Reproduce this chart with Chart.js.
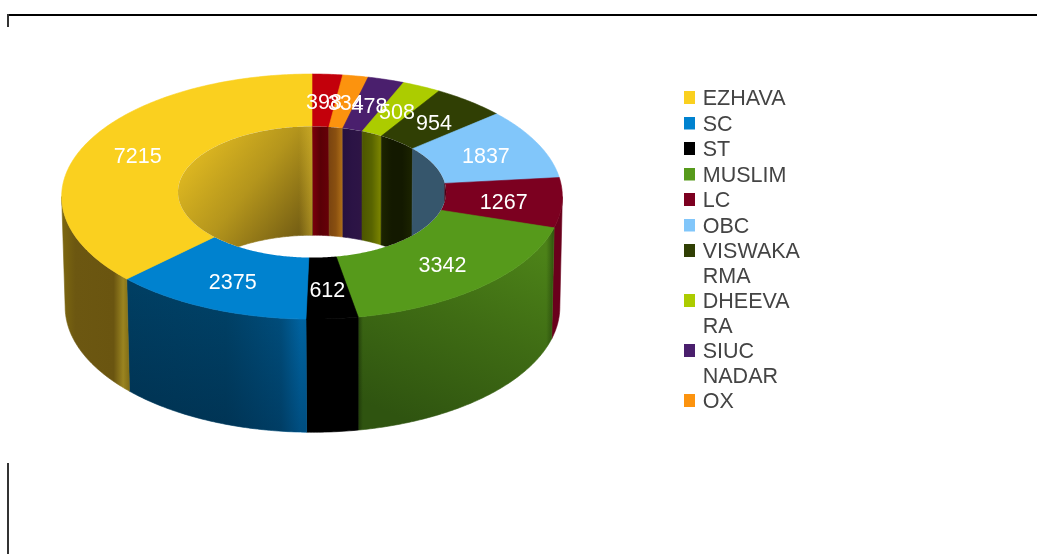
<!DOCTYPE html>
<html>
<head>
<meta charset="utf-8">
<style>html,body{margin:0;padding:0;background:#fff}canvas{display:block}</style>
<script src="https://cdn.jsdelivr.net/npm/chart.js@4/dist/chart.umd.min.js"></script>
</head>
<body>
<canvas id="c" width="1037" height="554"></canvas>
<script>
const categories = ['EZHAVA','SC','ST','MUSLIM','LC','OBC','VISWAKARMA','DHEEVARA','SIUC NADAR','OX',''];
const values = [7215,2375,612,3342,1267,1837,954,508,478,334,398];
const legendLines = [['EZHAVA'],['SC'],['ST'],['MUSLIM'],['LC'],['OBC'],['VISWAKA','RMA'],['DHEEVA','RA'],['SIUC','NADAR'],['OX'],['']];
const colors = ['#fad01f','#0082cf','#000000','#569a1b','#7c0020','#81c6fa','#303f04','#accc00','#4a1f6d','#fc930e','#c3000b'];

// The picture runs clockwise from the top in reverse category order.
const drawOrder = categories.map((_, i) => categories.length - 1 - i);

// 3D camera model of the ring
const CX = 312, HOLE = 0.536, K = 0.052;
const TOP = {x: 312, a: 250, y: 190.2, b: 122.2};
const BOT = {x: 312.5, a: 247, y: 300.4, b: 125};
function proj(pl, r, t) {
  const u = r * Math.sin(t), v = -r * Math.cos(t), w = 1 / (1 - K * v);
  return [pl.x + pl.a * u * w, pl.y + pl.b * v * w];
}
function trace(ctx, pl, r, a, b, first) {
  const n = Math.max(2, Math.ceil(Math.abs(b - a) / 0.012));
  for (let i = 0; i <= n; i++) {
    const p = proj(pl, r, a + (b - a) * i / n);
    if (first && i === 0) ctx.moveTo(p[0], p[1]); else ctx.lineTo(p[0], p[1]);
  }
}
function band(ctx, p1, r1, p2, r2, a, b) {
  ctx.beginPath();
  trace(ctx, p1, r1, a, b, true);
  trace(ctx, p2, r2, b, a, false);
  ctx.closePath();
}
function paint(ctx, style) {
  ctx.fillStyle = style; ctx.strokeStyle = style; ctx.lineWidth = 0.6;
  ctx.fill(); ctx.stroke();
}
function hGrad(ctx, x0, x1, stops) {
  const g = ctx.createLinearGradient(x0, 0, x1, 0);
  stops.forEach((c, i) => g.addColorStop(Array.isArray(c) ? c[0] : i / (stops.length - 1), Array.isArray(c) ? c[1] : c));
  return g;
}
// Legend swatch: 13px square sitting 2px above the centre of its text line
function swatch(color) {
  const s = document.createElement('canvas');
  s.width = 13; s.height = 17;
  const x = s.getContext('2d');
  x.fillStyle = color; x.fillRect(0, 0, 13, 13);
  return s;
}
const innerStops = {
  'SC':['#00304e','#00304e'], 'ST':['#000','#000'], 'MUSLIM':['#2f5410','#2f5410'],
  'LC':['#4a0014','#4a0014'], 'OBC':['#36566c','#36566c'],
  'VISWAKARMA':['#1c2400','#131900','#131900','#1c2400'], 'DHEEVARA':['#4c5600','#586400','#7f8800'],
  'SIUC NADAR':['#26113f','#2b1345','#2e1545'], 'OX':['#7a4410','#8a5010','#b07018'], '':['#7d000c','#5a0006','#660008']
};
function outerStyle(ctx, name, color) {
  if (name === 'EZHAVA') return hGrad(ctx, 62, 130, [[0,'#7c6710'],[0.2,'#6c5711'],[0.76,'#6a5510'],[0.9,'#9a8420'],[1,'#7e6a14']]);
  if (name === 'SC') return hGrad(ctx, 128, 306, [[0,'#003e62'],[0.55,'#004268'],[0.86,'#005080'],[0.97,'#0068a8'],[1,'#0068a8']]);
  if (name === 'MUSLIM') {
    const g = ctx.createLinearGradient(510, 240, 430, 430);
    g.addColorStop(0,'#4c8218'); g.addColorStop(0.45,'#3f6c14'); g.addColorStop(1,'#2f5410');
    return g;
  }
  if (name === 'LC') return '#6a001c';
  return color;
}
const ring3d = {
  id: 'ring3d',
  beforeDraw(chart) {
    const c = chart.ctx;
    c.save();
    c.fillStyle = '#000';
    c.fillRect(7, 14, 1030, 2);
    c.fillStyle = '#333';
    c.fillRect(7, 14, 2, 13);
    c.fillRect(7, 463, 2, 91);
    c.restore();
  },
  afterLayout(chart) {
    const l = chart.legend;
    const pad = l.options.labels.padding;
    l.left = 685 - pad; l.top = 88.75 - pad;
    l.right = 1037; l.bottom = 554;
  },
  beforeDatasetsDraw(chart) {
    const a = chart.getDatasetMeta(0).data[0];
    const c = chart.ctx;
    c.save();
    c.translate(CX, 196.5); c.scale(1, 0.49); c.translate(-a.x, -a.y);
  },
  afterDatasetsDraw(chart) {
    const c = chart.ctx;
    c.restore();
    const meta = chart.getDatasetMeta(0);
    const arcs = meta.data.map((el, i) => ({
      a: el.startAngle + Math.PI / 2, b: el.endAngle + Math.PI / 2,
      name: chart.data.labels[i], value: chart.data.datasets[0].data[i], color: el.options.backgroundColor
    }));
    const PI = Math.PI;
    // outer wall: the front half, out to where the ring's silhouette turns
    arcs.forEach(s => {
      const a = Math.max(s.a, PI / 2 + K), b = Math.min(s.b, 3 * PI / 2 - K);
      if (b <= a) return;
      band(c, TOP, 1, BOT, 1, a, b);
      paint(c, outerStyle(c, s.name, s.color));
      c.save(); c.clip();
      if (s.name === 'MUSLIM') {
        c.fillStyle = hGrad(c, 358, 554, [[0,'rgba(20,40,5,.6)'],[0.025,'rgba(20,40,5,0)'],[0.96,'rgba(20,40,5,0)'],[1,'rgba(20,40,5,.5)']]);
        c.fillRect(350, 220, 215, 220);
      }
      if (s.name === 'SC') {
        const g = c.createLinearGradient(0, 290, 0, 430);
        g.addColorStop(0, 'rgba(0,20,40,0)'); g.addColorStop(1, 'rgba(0,20,40,.3)');
        c.fillStyle = g;
        c.fillRect(120, 270, 190, 170);
      }
      c.restore();
    });
    // top face
    arcs.forEach(s => { band(c, TOP, 1, TOP, HOLE, s.a, s.b); paint(c, s.color); });
    // the hole, with the back wall seen through it
    c.save();
    c.beginPath(); trace(c, TOP, HOLE, 0, 2 * PI, true); c.closePath();
    c.fillStyle = '#fff'; c.fill();
    c.clip();
    arcs.forEach(s => {
      [[0, PI / 2], [3 * PI / 2, 2 * PI]].forEach(rg => {
        const a = Math.max(s.a, rg[0]), b = Math.min(s.b, rg[1]);
        if (b <= a) return;
        const p0 = proj(TOP, HOLE, a), p1 = proj(TOP, HOLE, b);
        const x0 = Math.min(p0[0], p1[0]), x1 = Math.max(p0[0], p1[0]);
        band(c, TOP, HOLE, BOT, HOLE, a, b);
        if (s.name === 'EZHAVA') {
          const g = c.createLinearGradient(185, 140, 310, 240);
          g.addColorStop(0, '#e8c022'); g.addColorStop(0.5, '#b4951c'); g.addColorStop(1, '#6a5512');
          paint(c, g);
          c.save(); c.clip();
          c.fillStyle = hGrad(c, 299, 312, [[0,'rgba(235,200,50,0)'],[1,'rgba(235,200,50,.45)']]);
          c.fillRect(299, 120, 13, 130);
          c.restore();
        } else {
          paint(c, hGrad(c, x0, x1, innerStops[s.name] || [s.color, s.color]));
        }
      });
    });
    c.restore();
    // value labels
    c.save();
    c.font = '21.5px "Liberation Sans"';
    c.fillStyle = '#fff'; c.textAlign = 'center'; c.textBaseline = 'middle';
    arcs.forEach(s => {
      const p = proj(TOP, (1 + HOLE) / 2, (s.a + s.b) / 2);
      c.fillText(String(s.value), p[0], p[1] + 3);
    });
    c.restore();
  }
};
new Chart(document.getElementById('c'), {
  type: 'doughnut',
  data: {
    labels: drawOrder.map(i => categories[i]),
    datasets: [{
      data: drawOrder.map(i => values[i]),
      backgroundColor: drawOrder.map(i => colors[i]),
      borderWidth: 0
    }]
  },
  options: {
    responsive: false, animation: false,
    radius: 249, cutout: 134, rotation: 0,
    layout: {padding: 0},
    events: [],
    plugins: {
      tooltip: {enabled: false},
      legend: {
        position: 'right', align: 'start', reverse: true,
        labels: {
          color: '#444444',
          font: {family: '"Liberation Sans"', size: 21.5, lineHeight: 24.5 / 21.5},
          padding: 1, boxWidth: 7, boxHeight: 13, usePointStyle: true,
          generateLabels(chart) {
            return chart.data.labels.map((name, i) => ({
              text: legendLines[categories.indexOf(name)],
              fillStyle: chart.data.datasets[0].backgroundColor[i],
              strokeStyle: chart.data.datasets[0].backgroundColor[i],
              fontColor: '#444444',
              lineWidth: 0, pointStyle: swatch(chart.data.datasets[0].backgroundColor[i]), index: i, hidden: false
            }));
          },
          filter: item => item.text.join('') !== ''
        }
      }
    }
  },
  plugins: [ring3d]
});
</script>
</body>
</html>
